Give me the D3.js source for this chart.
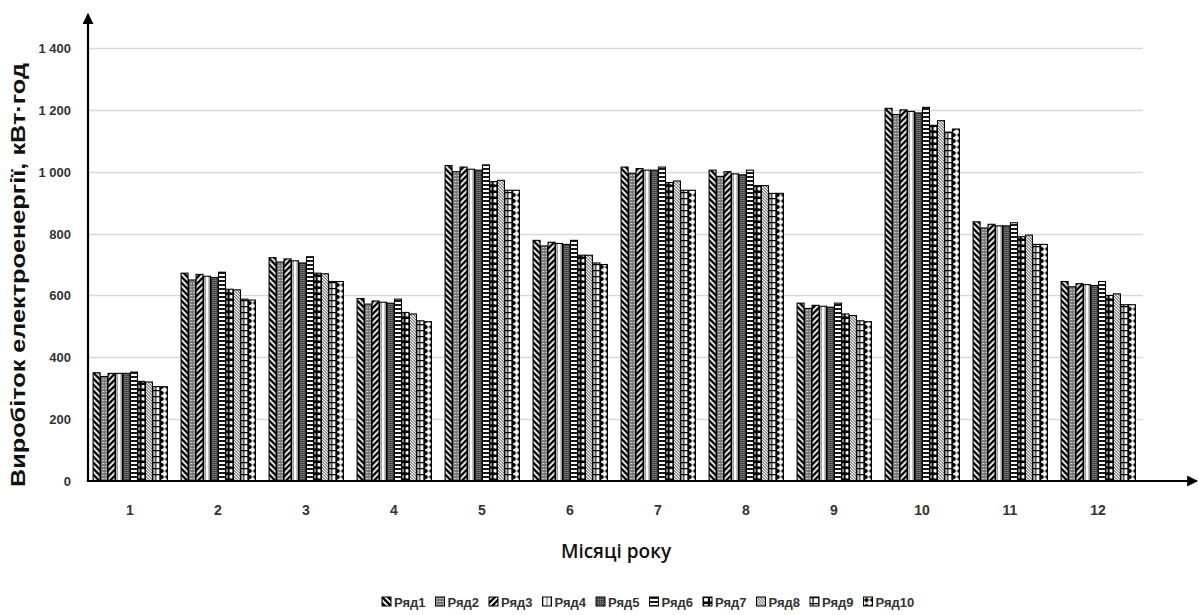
<!DOCTYPE html>
<html>
<head>
<meta charset="utf-8">
<script src="https://cdn.jsdelivr.net/npm/d3@7"></script>
<style>
  body { margin: 0; background: #fff; }
  svg { display: block; }
</style>
</head>
<body>
<div id="chart"></div>
<script>
// data ----------------------------------------------------------------
const months = ['1', '2', '3', '4', '5', '6', '7', '8', '9', '10', '11', '12'];
const seriesNames = ['Ряд1', 'Ряд2', 'Ряд3', 'Ряд4', 'Ряд5', 'Ряд6', 'Ряд7', 'Ряд8', 'Ряд9', 'Ряд10'];
const yTicks = [0, 200, 400, 600, 800, 1000, 1200, 1400];

// one array per month, values for Ряд1..Ряд10
const m1  = [350, 338, 348, 348, 348, 352, 322, 320, 305, 305];
const m2  = [672, 650, 668, 662, 658, 675, 620, 618, 588, 585];
const m3  = [722, 708, 718, 712, 705, 725, 672, 670, 645, 645];
const m4  = [590, 572, 582, 578, 575, 588, 545, 540, 518, 515];
const m5  = [1020, 1000, 1015, 1008, 1005, 1022, 968, 972, 940, 940];
const m6  = [778, 760, 772, 768, 765, 778, 730, 730, 705, 700];
const m7  = [1015, 995, 1010, 1005, 1005, 1015, 965, 970, 940, 940];
const m8  = [1005, 985, 1000, 993, 990, 1005, 955, 955, 930, 930];
const m9  = [575, 558, 568, 565, 562, 575, 540, 535, 518, 515];
const m10 = [1205, 1185, 1200, 1195, 1190, 1208, 1150, 1165, 1128, 1138];
const m11 = [838, 818, 830, 825, 825, 835, 790, 795, 765, 765];
const m12 = [645, 628, 638, 635, 632, 645, 600, 605, 570, 570];
const values = [m1, m2, m3, m4, m5, m6, m7, m8, m9, m10, m11, m12];

// layout --------------------------------------------------------------
const W = 1199, H = 615;
const X0 = 88, XGRID = 1143, XEND = 1197;
const Y0 = 481, YTOP = 48;

const svg = d3.select('#chart').append('svg')
    .attr('width', W)
    .attr('height', H);

const x = d3.scaleBand()
    .domain(months)
    .range([86, 1142])
    .paddingInner(0.15)
    .paddingOuter(0.075);

const xs = d3.scaleBand()
    .domain(seriesNames)
    .range([0, x.bandwidth()]);

const y = d3.scaleLinear()
    .domain([0, 1400])
    .range([Y0, YTOP]);

// hatch patterns, roughly like the Excel b/w fills
const defs = svg.append('defs');

function pat(id, w, h, bg, draw) {
  const p = defs.append('pattern')
      .attr('id', id)
      .attr('patternUnits', 'userSpaceOnUse')
      .attr('width', w)
      .attr('height', h);
  p.append('rect').attr('width', w).attr('height', h).attr('fill', bg);
  draw(p);
}

// Ряд1: wide "\" stripes
pat('p0', 6, 6, '#fff', p => {
  p.append('path').attr('d', 'M-1,-1L7,7M-4,2L2,8M4,-2L8,2')
    .attr('stroke', '#000').attr('stroke-width', 2.4);
});
// Ряд2: grey with white dots
pat('p1', 3, 3, '#7a7a7a', p => {
  p.append('rect').attr('x', 1).attr('y', 1).attr('width', 1).attr('height', 1).attr('fill', '#fff');
});
// Ряд3: wide "/" stripes
pat('p2', 6, 6, '#fff', p => {
  p.append('path').attr('d', 'M-1,7L7,-1M-4,4L2,-2M4,8L8,4')
    .attr('stroke', '#000').attr('stroke-width', 2.4);
});
// Ряд4: white with thin vertical lines
pat('p3', 4, 4, '#fff', p => {
  p.append('path').attr('d', 'M0.5,0V4').attr('stroke', '#666').attr('stroke-width', 1);
});
// Ryad5: dark grey dense
pat('p4', 2, 2, '#444', p => {
  p.append('rect').attr('width', 1).attr('height', 1).attr('fill', '#999');
});
// Ряд6: horizontal lines
pat('p5', 4, 4, '#fff', p => {
  p.append('path').attr('d', 'M0,1H4').attr('stroke', '#000').attr('stroke-width', 1.8);
});
// Ряд7: black with white boxes
pat('p6', 6, 6, '#000', p => {
  p.append('rect').attr('x', 1).attr('y', 1).attr('width', 4).attr('height', 3.5)
    .attr('rx', 1).attr('fill', '#fff');
});
// Ряд8: fine "\" stripes
pat('p7', 3, 3, '#fff', p => {
  p.append('path').attr('d', 'M-1,-1L4,4M-1,2L1,4M2,-1L4,1')
    .attr('stroke', '#333').attr('stroke-width', 1);
});
// Ряд9: small grid boxes
pat('p8', 6, 6, '#fff', p => {
  p.append('path').attr('d', 'M0,0.5H6M3,0V6').attr('stroke', '#000').attr('stroke-width', 1.3);
});
// Ряд10: white with black diamonds
pat('p9', 6, 6, '#fff', p => {
  p.append('path').attr('d', 'M3,0.3L5.7,3L3,5.7L0.3,3Z').attr('fill', '#000');
});

// gridlines
svg.append('g')
  .selectAll('line')
  .data(yTicks.filter(d => d > 0))
  .join('line')
    .attr('x1', X0)
    .attr('x2', XGRID)
    .attr('y1', d => Math.round(y(d)) + 0.5)
    .attr('y2', d => Math.round(y(d)) + 0.5)
    .attr('stroke', '#d9d9d9')
    .attr('stroke-width', 1.5);

// y tick labels
svg.append('g')
  .selectAll('text')
  .data(yTicks)
  .join('text')
    .attr('x', 71)
    .attr('y', d => y(d) + 5)
    .attr('text-anchor', 'end')
    .attr('font-family', '"Liberation Sans Narrow", "Liberation Sans", sans-serif')
    .attr('font-weight', 'bold')
    .attr('font-size', 13)
    .attr('fill', '#333')
    .text(d => d3.format(',')(d).replace(/,/g, ' '));

// bars
const groups = svg.append('g')
  .selectAll('g')
  .data(months)
  .join('g')
    .attr('transform', d => `translate(${x(d)},0)`);

groups.selectAll('rect')
  .data((d, i) => values[i].map((v, j) => ({ s: seriesNames[j], j, v })))
  .join('rect')
    .attr('x', d => xs(d.s) + 0.5)
    .attr('y', d => y(d.v))
    .attr('width', xs.bandwidth() - 0.5)
    .attr('height', d => Y0 - y(d.v))
    .attr('fill', d => `url(#p${d.j})`)
    .attr('stroke', '#000')
    .attr('stroke-width', 1.1);

// axes with arrows
svg.append('defs').append('marker')
    .attr('id', 'arrow')
    .attr('viewBox', '0 -5 10 10')
    .attr('refX', 9)
    .attr('refY', 0)
    .attr('markerWidth', 5)
    .attr('markerHeight', 5)
    .attr('orient', 'auto')
  .append('path')
    .attr('d', 'M0,-5L10,0L0,5Z')
    .attr('fill', '#000');

svg.append('line')
    .attr('x1', X0).attr('x2', XEND)
    .attr('y1', Y0).attr('y2', Y0)
    .attr('stroke', '#000').attr('stroke-width', 2.2)
    .attr('marker-end', 'url(#arrow)');

svg.append('line')
    .attr('x1', X0).attr('x2', X0)
    .attr('y1', Y0 + 1).attr('y2', 14)
    .attr('stroke', '#000').attr('stroke-width', 2.2)
    .attr('marker-end', 'url(#arrow)');

// x tick labels
svg.append('g')
  .selectAll('text')
  .data(months)
  .join('text')
    .attr('x', d => x(d) + x.bandwidth() / 2)
    .attr('y', 515)
    .attr('text-anchor', 'middle')
    .attr('font-family', '"Liberation Sans Narrow", "Liberation Sans", sans-serif')
    .attr('font-weight', 'bold')
    .attr('font-size', 14)
    .attr('fill', '#333')
    .text(d => d);

// axis titles
svg.append('text')
    .attr('x', 616)
    .attr('y', 558)
    .attr('text-anchor', 'middle')
    .attr('font-family', '"Open Sans", "Liberation Sans", sans-serif')
    .attr('font-weight', 600)
    .attr('font-size', 19)
    .attr('fill', '#111')
    .text('Місяці року');

svg.append('text')
    .attr('transform', 'translate(25,275) rotate(-90)')
    .attr('text-anchor', 'middle')
    .attr('font-family', '"Liberation Sans", Arial, sans-serif')
    .attr('font-weight', 'bold')
    .attr('font-size', 20)
    .attr('textLength', 424)
    .attr('lengthAdjust', 'spacingAndGlyphs')
    .attr('fill', '#111')
    .text('Виробіток електроенергії, кВт·год');

// legend
const legend = svg.append('g');
const itemW = 53.5;
const lx0 = 382;
const items = legend.selectAll('g')
  .data(seriesNames)
  .join('g')
    .attr('transform', (d, i) => `translate(${lx0 + i * itemW},597)`);

items.append('rect')
    .attr('width', 9).attr('height', 9)
    .attr('fill', (d, i) => `url(#p${i})`)
    .attr('stroke', '#000').attr('stroke-width', 1);

items.append('text')
    .attr('x', 12)
    .attr('y', 9.5)
    .attr('font-family', '"Liberation Sans Narrow", "Liberation Sans", sans-serif')
    .attr('font-weight', 'bold')
    .attr('font-size', 13)
    .attr('fill', '#333')
    .text(d => d);
</script>
</body>
</html>
